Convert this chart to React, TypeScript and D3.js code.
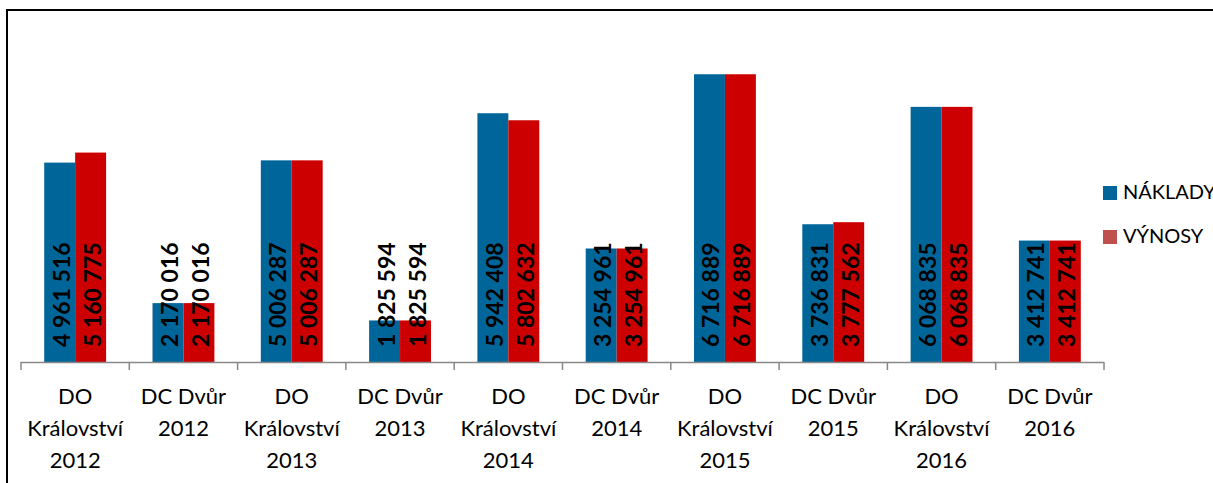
import React from "react";
import * as d3 from "d3";

// categories (label lines)
const categories = [
  "DO Království 2012",
  "DC Dvůr 2012",
  "DO Království 2013",
  "DC Dvůr 2013",
  "DO Království 2014",
  "DC Dvůr 2014",
  "DO Království 2015",
  "DC Dvůr 2015",
  "DO Království 2016",
  "DC Dvůr 2016",
];
const categoryLines = [
  ["DO", "Království", "2012"],
  ["DC Dvůr", "2012"],
  ["DO", "Království", "2013"],
  ["DC Dvůr", "2013"],
  ["DO", "Království", "2014"],
  ["DC Dvůr", "2014"],
  ["DO", "Království", "2015"],
  ["DC Dvůr", "2015"],
  ["DO", "Království", "2016"],
  ["DC Dvůr", "2016"],
];

const naklady = [4961516, 2170016, 5006287, 1825594, 5942408, 3254961, 6716889, 3736831, 6068835, 3412741];
const vynosy = [5160775, 2170016, 5006287, 1825594, 5802632, 3254961, 6716889, 3777562, 6068835, 3412741];

const seriesNames = ["NÁKLADY", "VÝNOSY"];
const barColors = ["#00669A", "#CC0000"];
const legendColors = ["#00669A", "#C0504D"];

const W = 1213;
const H = 483;

const locale = d3.formatLocale({ decimal: ",", thousands: " ", grouping: [3], currency: ["", " Kč"] });
const fmt = locale.format(",d");

const FONT = "Lato, 'Open Sans', sans-serif";

const App = () => {
  const x = d3.scaleBand<string>().domain(categories).range([21, 1104]).padding(0);
  const inner = d3
    .scaleBand<string>()
    .domain(seriesNames)
    .range([0, x.bandwidth()])
    .paddingInner(0)
    .paddingOuter(0.75);
  const y = d3.scaleLinear().domain([1000000, 7000000]).range([362, 60]);

  const series = [naklady, vynosy];
  const base = y(1000000);

  return (
    <svg
      width={W}
      height={H}
      style={{ position: "absolute", left: 0, top: 0, background: "#fff" }}
    >
      <rect x={7} y={10} width={W + 10} height={H + 10} fill="#fff" stroke="#000" strokeWidth={2} />

      {/* bars */}
      {series.map((vals, s) =>
        vals.map((v, i) => (
          <rect
            key={`b${s}-${i}`}
            x={x(categories[i])! + inner(seriesNames[s])!}
            y={y(v)}
            width={inner.bandwidth()}
            height={base - y(v)}
            fill={barColors[s]}
          />
        ))
      )}

      {/* axis */}
      <line x1={x.range()[0]} x2={x.range()[1]} y1={base + 0.5} y2={base + 0.5} stroke="#888" strokeWidth={1.5} />
      {d3.range(categories.length + 1).map((i) => {
        const tx = x.range()[0] + i * x.step();
        return <line key={`t${i}`} x1={tx} x2={tx} y1={base} y2={base + 8} stroke="#888" strokeWidth={1.5} />;
      })}

      {/* category labels */}
      {categoryLines.map((lines, i) => (
        <text
          key={`c${i}`}
          x={x(categories[i])! + x.bandwidth() / 2}
          textAnchor="middle"
          fontFamily={FONT}
          fontSize={22}
          fill="#000"
        >
          {lines.map((l, j) => (
            <tspan key={j} x={x(categories[i])! + x.bandwidth() / 2} y={404 + j * 32}>
              {l}
            </tspan>
          ))}
        </text>
      ))}

      {/* value labels */}
      {series.map((vals, s) =>
        vals.map((v, i) => {
          const cx = x(categories[i])! + inner(seriesNames[s])! + inner.bandwidth() / 2 + 1;
          const cy = base - 15;
          return (
            <text
              key={`v${s}-${i}`}
              transform={`translate(${cx},${cy}) rotate(-90)`}
              dominantBaseline="central"
              fontFamily={FONT}
              fontWeight="bold"
              fontSize={23}
              fill="#000"
            >
              {fmt(v)}
            </text>
          );
        })
      )}

      {/* legend */}
      {seriesNames.map((n, s) => (
        <g key={`l${s}`} transform={`translate(1103,${186 + s * 44})`}>
          <rect width={14} height={14} fill={legendColors[s]} />
          <text x={20} y={13} fontFamily={FONT} fontSize={20} fill="#000">
            {n}
          </text>
        </g>
      ))}
    </svg>
  );
};

export default App;
